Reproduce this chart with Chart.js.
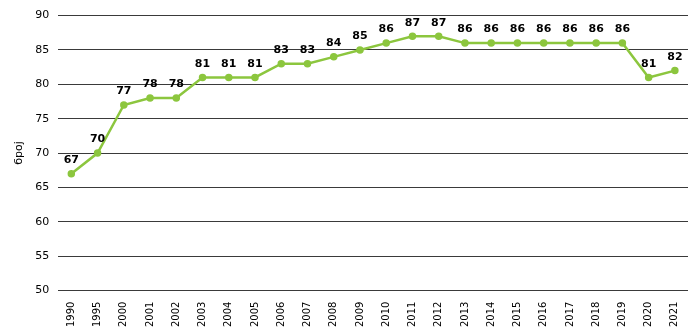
<!DOCTYPE html>
<html>
<head>
<meta charset="utf-8">
<script src="https://cdn.jsdelivr.net/npm/chart.js@4/dist/chart.umd.min.js"></script>
<style>
  html, body { margin: 0; padding: 0; background: #fff; }
  #wrap { width: 700px; height: 330px; }
</style>
</head>
<body>
<div id="wrap"><canvas id="grafik"></canvas></div>
<script>
const godine = ['1990', '1995', '2000', '2001', '2002', '2003', '2004', '2005', '2006', '2007', '2008', '2009',
    '2010', '2011', '2012', '2013', '2014', '2015', '2016', '2017', '2018', '2019', '2020', '2021'];
const vrijednosti = [67, 70, 77, 78, 78, 81, 81, 81, 83, 83, 84, 85, 86, 87, 87, 86, 86, 86, 86, 86, 86, 86, 81, 82];
const yMin = 50;
const yMax = 90;
const yKorak = 5;
const nazivOse = 'број';

// oznake vrijednosti iznad tačaka
const oznake = {
    id: 'oznake',
    afterDatasetsDraw(chart) {
        const ctx = chart.ctx;
        const meta = chart.getDatasetMeta(0);
        ctx.save();
        ctx.font = 'bold 11px "DejaVu Sans"';
        ctx.fillStyle = '#000';
        ctx.textAlign = 'center';
        ctx.textBaseline = 'bottom';
        meta.data.forEach((p, i) => {
            ctx.fillText(vrijednosti[i], p.x, p.y - 8);
        });
        ctx.restore();
    }
};

const ctx = document.getElementById('grafik').getContext('2d');
new Chart(ctx, {
    type: 'line',
    data: {
        labels: godine,
        datasets: [{
            data: vrijednosti,
            borderColor: '#8cc63e',
            backgroundColor: '#8cc63e',
            borderWidth: 2.5,
            pointRadius: 2.5,
            pointHoverRadius: 2.5,
            tension: 0
        }]
    },
    options: {
        responsive: true,
        maintainAspectRatio: false,
        animation: false,
        layout: { padding: { top: 4, right: 12, bottom: 0, left: 13 } },
        plugins: {
            legend: { display: false },
            tooltip: { enabled: false }
        },
        scales: {
            x: {
                offset: true,
                grid: { display: false },
                border: { display: false },
                ticks: {
                    minRotation: 90,
                    maxRotation: 90,
                    autoSkip: false,
                    color: '#000',
                    font: { family: 'DejaVu Sans', size: 10 }
                }
            },
            y: {
                min: yMin,
                max: yMax,
                border: { display: false },
                grid: { color: '#3a3a3a', lineWidth: 1, drawTicks: false },
                ticks: {
                    stepSize: yKorak,
                    padding: 9,
                    color: '#000',
                    font: { family: 'DejaVu Sans', size: 11 }
                },
                title: {
                    display: true,
                    text: nazivOse,
                    padding: 0,
                    color: '#000',
                    font: { family: 'DejaVu Sans', size: 11 }
                }
            }
        }
    },
    plugins: [oznake]
});
</script>
</body>
</html>
